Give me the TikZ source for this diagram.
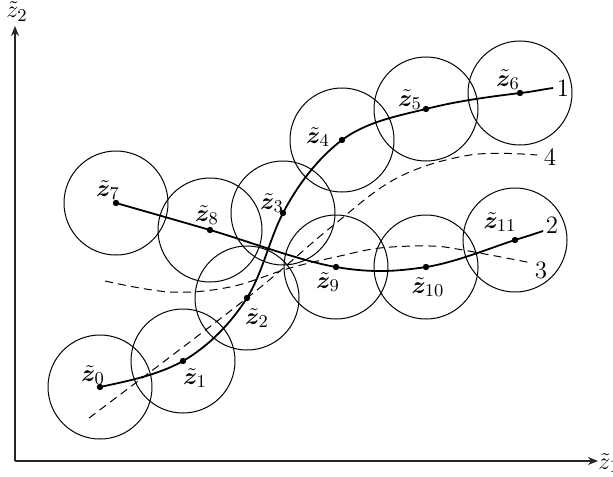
\documentclass[tikz,border=0pt]{standalone}
\usepackage{amsmath,bm}
\usetikzlibrary{arrows.meta}
\begin{document}
\begin{tikzpicture}[x=0.5pt,y=-0.5pt,
  every node/.style={font=\fontsize{12.5}{15}\selectfont},
  ring/.style={draw,line width=0.5pt},
  pt/.style={circle,fill,inner sep=0pt,minimum size=3.2pt},
  lbl/.style={inner sep=0pt},
  path/.style={line width=0.9pt},
  dpath/.style={line width=0.5pt,dash pattern=on 4pt off 2.6pt},
  axis/.style={line width=0.6pt,black!85,-{Stealth[length=5pt,width=4pt]}}]
\useasboundingbox (0,0) rectangle (613,476);
% axes
\coordinate (O) at (15,461);
\coordinate (yend) at (15,26);
\coordinate (xend) at (598,461);
\draw[axis] (O) -- (yend);
\draw[axis] (O) -- (xend);
\node[lbl,anchor=south] (ylab) at (17,22) {$\tilde{z}_2$};
\node[lbl,anchor=west] (xlab) at (598,463) {$\tilde{z}_1$};
% points
\node[pt] (z0) at (100,387) {};
\node[pt] (z1) at (183,361) {};
\node[pt] (z2) at (247,298) {};
\node[pt] (z3) at (283,213) {};
\node[pt] (z4) at (342,140) {};
\node[pt] (z5) at (426,109) {};
\node[pt] (z6) at (520,93) {};
\node[pt] (z7) at (116,203) {};
\node[pt] (z8) at (210,230) {};
\node[pt] (z9) at (336,267) {};
\node[pt] (z10) at (426,267) {};
\node[pt] (z11) at (515,240) {};
\coordinate (e1) at (553,88);
\coordinate (e2) at (543,231);
% circles
\foreach \n in {z0,z1,z2,z3,z4,z5,z6,z7,z8,z9,z10,z11}
  \draw[ring] (\n) circle[radius=26pt];
% solid curves
\draw[path] (z0.center) .. controls (128,381) and (158,375) .. (z1.center)
  .. controls (209,346) and (231,323) .. (z2.center)
  .. controls (263,272) and (269,240) .. (z3.center)
  .. controls (297,186) and (317,159) .. (z4.center)
  .. controls (366,122) and (397,116) .. (z5.center)
  .. controls (457,101) and (488,97) .. (z6.center)
  .. controls (531,92) and (542,89.5) .. (e1);
\draw[path] plot[smooth,tension=0.6] coordinates {(z7) (z8) (z9) (z10) (z11) (e2)};
% dashed curves
\coordinate (a0) at (89,418);
\coordinate (a4) at (537,155);
\draw[dpath] plot[smooth,tension=0.6] coordinates {(a0) (247,298) (330,228) (397,178) (470,155) (a4)};
\coordinate (b0) at (105,281);
\coordinate (b3) at (532,263);
\draw[dpath] plot[smooth,tension=0.6] coordinates {(b0) (170,292) (230,287) (290,268) (340,256) (380,248) (430,246) (463,250) (b3)};
% curve labels
\node[lbl] (n1) at (563,88) {1};
\node[lbl] (n2) at (552,225) {2};
\node[lbl] (n3) at (541,270) {3};
\node[lbl] (n4) at (550,157) {4};
% point labels
\node[lbl] (l0) at (93,375) {$\tilde{\bm z}_0$};
\node[lbl] (l1) at (195,378) {$\tilde{\bm z}_1$};
\node[lbl] (l2) at (257,318) {$\tilde{\bm z}_2$};
\node[lbl] (l3) at (272,203) {$\tilde{\bm z}_3$};
\node[lbl] (l4) at (318,137) {$\tilde{\bm z}_4$};
\node[lbl] (l5) at (410,100) {$\tilde{\bm z}_5$};
\node[lbl] (l6) at (508,80) {$\tilde{\bm z}_6$};
\node[lbl] (l7) at (108,190) {$\tilde{\bm z}_7$};
\node[lbl] (l8) at (207,215) {$\tilde{\bm z}_8$};
\node[lbl] (l9) at (328,282) {$\tilde{\bm z}_9$};
\node[lbl] (l10) at (428,287) {$\tilde{\bm z}_{10}$};
\node[lbl] (l11) at (500,222) {$\tilde{\bm z}_{11}$};
\end{tikzpicture}
\end{document}
